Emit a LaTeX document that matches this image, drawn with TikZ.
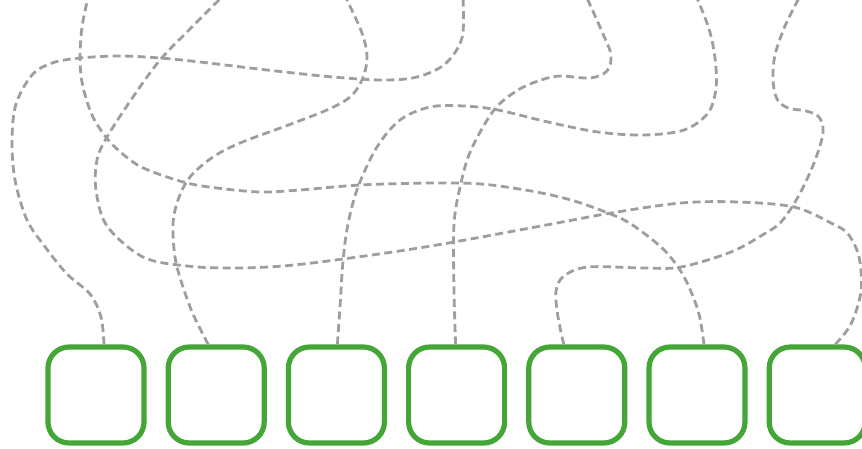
\documentclass[tikz,border=0pt]{standalone}
\usetikzlibrary{positioning}
\definecolor{slotgreen}{RGB}{67,166,55}
\definecolor{wiregray}{RGB}{158,158,158}

\begin{document}
\begin{tikzpicture}[
        x=1pt, y=-1pt,
        node distance=19pt,
        slot/.style={draw=slotgreen, line width=5.2pt, rounded corners=21pt, minimum width=96pt, minimum height=96pt, inner sep=0pt},
        wire/.style={draw=wiregray, line width=2.8pt, dash pattern=on 8pt off 4.5pt, smooth, tension=0.55}
    ]
        \useasboundingbox (0,0) rectangle (862,448);
        \clip (0,0) rectangle (862,448);

        % Row of slots along the bottom
        \node[slot] (b1) at (96,395) {};
        \node[slot, right=of b1] (b2) {};
        \node[slot, right=of b2] (b3) {};
        \node[slot, right=of b3] (b4) {};
        \node[slot, right=of b4] (b5) {};
        \node[slot, right=of b5] (b6) {};
        \node[slot, right=of b6] (b7) {};

        % Where the wires leave the slots
        \coordinate (s1) at ([xshift=8pt]b1.north);
        \coordinate (s2) at ([xshift=-8pt]b2.north);
        \coordinate (s3) at ([xshift=1pt]b3.north);
        \coordinate (s4) at ([xshift=-1pt]b4.north);
        \coordinate (s5) at ([xshift=-13pt]b5.north);
        \coordinate (s6) at ([xshift=7pt]b6.north);
        \coordinate (s7) at ([xshift=18pt]b7.north);

        % Where the wires leave the picture (top edge)
        \coordinate (e1) at (463,-2);
        \coordinate (e2) at (346,-2);
        \coordinate (e3) at (697,-2);
        \coordinate (e4) at (587,-2);
        \coordinate (e5) at (799,-2);
        \coordinate (e6) at (88,-2);
        \coordinate (e7) at (221,-2);

        % Tangled wires
        \draw[wire] plot coordinates {(s1) (101,317) (90,294) (67,274) (46,248) (27,220) (15,180) (12,140) (16,104) (32,75) (52,63) (80,58) (120,56) (160,58) (200,62) (267,70) (333,77) (383,80) (417,77) (445,64) (462,38) (e1)};
        \draw[wire] plot coordinates {(s2) (193,314) (182,284) (175,257) (173,224) (178,200) (190,177) (213,157) (240,143) (283,127) (327,110) (350,97) (362,80) (367,58) (362,33) (e2)};
        \draw[wire] plot coordinates {(s3) (340,307) (343,261) (348,224) (358,187) (377,147) (400,120) (430,107) (464,106) (498,110) (548,122) (598,132) (644,135) (684,130) (708,113) (716,88) (715,58) (709,29) (e3)};
        \draw[wire] plot coordinates {(s4) (454,290) (454,224) (461,183) (471,150) (494,110) (518,90) (541,80) (560,76) (590,78) (607,71) (611,55) (603,34) (e4)};
        \draw[wire] plot coordinates {(s5) (558,317) (556,291) (564,276) (588,267) (644,268) (681,267) (731,252) (764,234) (781,222) (798,197) (814,163) (823,133) (819,117) (806,111) (788,108) (777,99) (773,80) (775,55) (785,26) (e5)};
        \draw[wire] plot coordinates {(s6) (699,314) (689,287) (678,267) (661,247) (631,224) (608,213) (571,200) (531,191) (481,184) (431,183) (360,185) (300,190) (260,192) (217,188) (187,183) (153,172) (133,162) (110,142) (93,117) (83,87) (80,60) (82,27) (e6)};
        \draw[wire] plot coordinates {(s7) (851,324) (861,291) (859,257) (848,234) (831,223) (794,207) (738,202) (681,203) (611,213) (541,226) (431,246) (343,259) (283,266) (233,268) (187,266) (143,257) (107,226) (96,190) (97,160) (107,137) (133,97) (160,60) (188,31) (e7)};

\end{tikzpicture}
\end{document}
